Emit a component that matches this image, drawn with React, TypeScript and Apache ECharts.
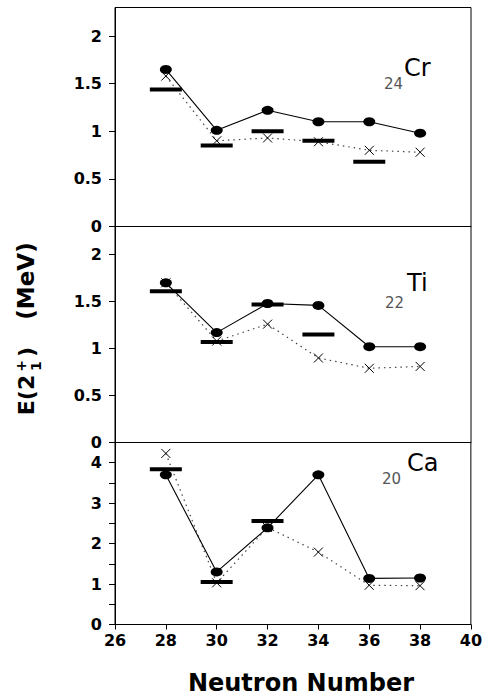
import React, { useEffect, useRef } from "react";
import * as echarts from "echarts";

const neutrons = [28, 30, 32, 34, 36, 38];
const crCircle = [1.65, 1.01, 1.22, 1.1, 1.1, 0.98];
const crCross = [1.58, 0.9, 0.93, 0.89, 0.8, 0.78];
const crExp = [1.44, 0.85, 1.0, 0.9, 0.68];
const tiCircle = [1.7, 1.17, 1.48, 1.46, 1.02, 1.02];
const tiCross = [1.7, 1.08, 1.26, 0.9, 0.79, 0.81];
const tiExp = [1.61, 1.07, 1.47, 1.15];
const caCircle = [3.7, 1.3, 2.39, 3.7, 1.14, 1.15];
const caCross = [4.23, 1.03, 2.4, 1.79, 0.97, 0.96];
const caExp = [3.84, 1.05, 2.56];
const xTicks = [26, 28, 30, 32, 34, 36, 38, 40];

const TICK_FONT = "DejaVu Sans";
const CROSS = "path://M0,0L10,10M10,0L0,10";

function pairs(vals: number[]) {
  return vals.map((v, i) => [neutrons[i], v]);
}

export default function App() {
  const ref = useRef<HTMLDivElement>(null);
  useEffect(() => {
    if (!ref.current) return;
    const chart = echarts.init(ref.current, null, { renderer: "svg" });
    const grids = [
      { left: 115, right: 14, top: 7.5, height: 219 },
      { left: 115, right: 14, top: 226.5, height: 216 },
      { left: 115, right: 14, top: 442.5, height: 182 },
    ].map((g) => ({ ...g, show: true, borderColor: "#000", borderWidth: 1, backgroundColor: "transparent" }));

    const xAxes = [0, 1, 2].map((i) => ({
      type: "value",
      gridIndex: i,
      min: xTicks[0],
      max: xTicks[xTicks.length - 1],
      interval: 2,
      splitLine: { show: false },
      axisLine: { lineStyle: { color: "#000", width: 1 } },
      axisTick: { show: i === 2, length: 5, lineStyle: { color: "#000" } },
      axisLabel: {
        show: i === 2,
        margin: 8,
        color: "#000",
        fontFamily: TICK_FONT,
        fontWeight: "bold",
        fontSize: 16,
      },
    }));

    const yMax = [2.3, 2.3, 4.5];
    const yAxes = [0, 1, 2].map((i) => ({
      type: "value",
      gridIndex: i,
      min: 0,
      max: yMax[i],
      interval: 0.5,
      splitLine: { show: false },
      axisLine: { show: true, lineStyle: { color: "#000", width: 1 } },
      axisTick: { show: true, length: 6, lineStyle: { color: "#000" } },
      axisLabel: {
        margin: 13,
        color: "#000",
        fontFamily: TICK_FONT,
        fontWeight: "bold",
        fontSize: 16,
        showMaxLabel: false,
        formatter: (v: number) => {
          if (i === 2) return Number.isInteger(v) ? String(v) : "";
          return Number.isInteger(v * 2) && v <= 2 ? String(v) : "";
        },
      },
    }));

    const sets = [
      [crCircle, crCross, crExp],
      [tiCircle, tiCross, tiExp],
      [caCircle, caCross, caExp],
    ];
    const series: any[] = [];
    sets.forEach(([circ, cross, exp], i) => {
      series.push({
        type: "line",
        xAxisIndex: i,
        yAxisIndex: i,
        data: pairs(cross),
        symbol: CROSS,
        symbolSize: 9,
        showSymbol: true,
        itemStyle: { color: "none", borderColor: "#000", borderWidth: 1 },
        lineStyle: { color: "#444", width: 1.2, type: [1.5, 4] },
        z: 2,
      });
      series.push({
        type: "scatter",
        xAxisIndex: i,
        yAxisIndex: i,
        data: pairs(exp),
        symbol: "rect",
        symbolSize: [32, 4],
        itemStyle: { color: "#000", opacity: 1 },
        z: 3,
      });
      series.push({
        type: "line",
        xAxisIndex: i,
        yAxisIndex: i,
        data: pairs(circ),
        symbol: "circle",
        symbolSize: [12, 9],
        showSymbol: true,
        itemStyle: { color: "#000", opacity: 1 },
        lineStyle: { color: "#000", width: 1.1 },
        z: 4,
      });
    });

    const elemLabel = (sym: string, num: string, sx: number, sy: number, nx: number, ny: number) => [
      {
        type: "text",
        x: sx,
        y: sy,
        style: { text: sym, fontFamily: "DejaVu Sans", fontSize: 24, fill: "#000", textAlign: "left", textVerticalAlign: "middle" },
      },
      {
        type: "text",
        x: nx,
        y: ny,
        style: { text: num, fontFamily: "DejaVu Sans", fontSize: 15, fill: "#555", textAlign: "left", textVerticalAlign: "middle" },
      },
    ];

    const yt = (text: string, x: number, y: number, size: number) => ({
      type: "text",
      x,
      y,
      rotation: Math.PI / 2,
      style: {
        text,
        fontFamily: "DejaVu Sans",
        fontWeight: "bold",
        fontSize: size,
        fill: "#000",
        textAlign: "center",
        textVerticalAlign: "middle",
      },
    });

    const graphic: any[] = [
      ...elemLabel("Cr", "24", 404, 68, 384, 84),
      ...elemLabel("Ti", "22", 407, 283, 385, 303),
      ...elemLabel("Ca", "20", 407, 463, 382, 479),
      yt("E(2", 26, 395, 22),
      yt("+", 21, 366, 14),
      yt("1", 36, 366, 14),
      yt(")", 26, 352, 22),
      yt("(MeV)", 26, 281, 23),
      {
        type: "text",
        x: 301,
        y: 683,
        style: {
          text: "Neutron Number",
          fontFamily: "DejaVu Sans",
          fontWeight: "bold",
          fontSize: 24,
          fill: "#000",
          textAlign: "center",
          textVerticalAlign: "middle",
        },
      },
    ];

    chart.setOption({
      animation: false,
      backgroundColor: "#fff",
      grid: grids,
      xAxis: xAxes,
      yAxis: yAxes,
      series,
      graphic,
    });
    return () => chart.dispose();
  }, []);
  return <div ref={ref} style={{ width: 485, height: 698, position: "absolute", left: 0, top: 0 }} />;
}
